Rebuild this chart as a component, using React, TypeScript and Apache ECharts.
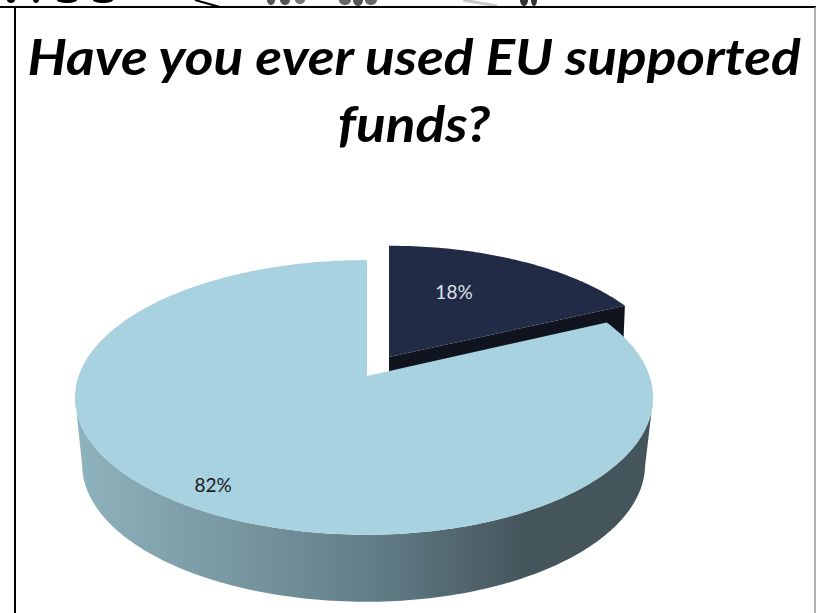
import React, { useEffect, useRef } from "react";
import * as echarts from "echarts";

const titleText = "Have you ever used EU supported\nfunds?";
const sliceNames = ["Yes", "No"];
const sliceValues = [18, 82];
const sliceLabels = ["18%", "82%"];

const W = 816;
const H = 613;
const PERSPECTIVE = 0.156;
const DEG = Math.PI / 180;

const sliceStyles = [
  {
    apexX: 389, apexY: 357, rxLeft: 278, rxRight: 278, ry: 128.6,
    top: "#212B45", cut: "#10141F", side: null as any, cutDepth: 50,
    labelR: 0.613, labelTurn: -7.9, labelColor: "#DDE2E8",
  },
  {
    apexX: 367, apexY: 376, rxLeft: 288.4, rxRight: 282.5, ry: 134,
    top: "#A8D2E0", cut: null as any,
    side: new echarts.graphic.LinearGradient(75, 0, 653, 0, [
      { offset: 0, color: "#8FB3BE" },
      { offset: 0.5, color: "#64808A" },
      { offset: 0.78, color: "#45555C" },
      { offset: 1, color: "#45555C" },
    ], true),
    cutDepth: 0,
    labelR: 0.863, labelTurn: 0.9, labelColor: "#1A1A1A",
  },
];
const RIM_DEPTH = 67;
const RIM_SHRINK = 0.974;

function project(s: any, r: number, deg: number): number[] {
  const u = r * Math.sin(deg * DEG);
  const v = r * Math.cos(deg * DEG);
  const w = 1 + PERSPECTIVE * v;
  return [s.apexX + ((u < 0 ? s.rxLeft : s.rxRight) * u) / w, s.apexY - (s.ry * v) / w];
}
function extrude(s: any, p: number[]): number[] {
  return [s.apexX + (p[0] - s.apexX) * RIM_SHRINK - 0.5, p[1] + RIM_DEPTH];
}

const total = sliceValues.reduce((a, b) => a + b, 0);
const rows = sliceValues.map((v, i) => [
  sliceValues.slice(0, i).reduce((a, b) => a + b, 0),
  v,
]);

function renderItem(params: any, api: any) {
  const i = params.dataIndex;
  const s = sliceStyles[i];
  const a0 = (api.value(0) / total) * 360;
  const a1 = a0 + (api.value(1) / total) * 360;
  const rim: number[][] = [];
  for (let a = a0; a < a1; a += 1) rim.push(project(s, 1, a));
  rim.push(project(s, 1, a1));
  const apex = project(s, 0, 0);
  const children: any[] = [];

  if (s.cut) {
    const end = rim[rim.length - 1];
    children.push({
      type: "polygon",
      shape: { points: [apex, end, [end[0] - 2, end[1] + s.cutDepth], [apex[0], apex[1] + s.cutDepth]] },
      style: { fill: s.cut },
    });
  }
  if (s.side) {
    const front: number[][] = [];
    for (let a = a0; a <= a1; a += 1) {
      if (Math.cos(a * DEG) <= -PERSPECTIVE) front.push(project(s, 1, a));
    }
    if (front.length > 1) {
      const lower = front.map((p) => extrude(s, p)).reverse();
      children.push({
        type: "polygon",
        shape: { points: front.concat(lower) },
        style: { fill: s.side },
      });
    }
  }
  children.push({
    type: "polygon",
    shape: { points: [apex].concat(rim) },
    style: { fill: s.top },
  });
  const lp = project(s, s.labelR, (a0 + a1) / 2 + s.labelTurn);
  children.push({
    type: "text",
    style: {
      text: sliceLabels[i], x: lp[0], y: lp[1], fill: s.labelColor,
      fontSize: 19, fontFamily: "Lato", align: "center", verticalAlign: "middle",
    },
  });
  return { type: "group", children };
}

export default function App() {
  const ref = useRef<HTMLDivElement>(null);
  useEffect(() => {
    const chart = echarts.init(ref.current!, null, { renderer: "svg" });
    const blob = (cx: number, rx: number, ry = 3, fill = "#000") => ({
      type: "ellipse", shape: { cx, cy: 0, rx, ry }, style: { fill },
    });
    chart.setOption({
      animation: false,
      backgroundColor: "#ffffff",
      graphic: [
        {
          type: "text",
          x: 414,
          y: 22,
          scaleX: 1.1,
          style: {
            text: titleText,
            align: "center",
            fontFamily: "Lato", fontSize: 50, fontWeight: "bold", fontStyle: "italic",
            fill: "#000", lineHeight: 67,
          },
        },
        blob(11, 4), blob(36, 3), blob(67, 10), blob(103, 10),
        blob(271, 4, 5, "#555"), blob(285, 5, 5, "#555"), blob(300, 5, 4, "#777"),
        blob(345, 6, 5, "#666"), blob(358, 5, 6, "#555"), blob(371, 6, 5, "#666"),
        blob(524, 4, 6, "#333"), blob(534, 3, 6, "#333"),
        { type: "line", shape: { x1: 195, y1: 0, x2: 220, y2: 7 }, style: { stroke: "#000", lineWidth: 2 } },
        { type: "line", shape: { x1: 463, y1: 0, x2: 497, y2: 6 }, style: { stroke: "#C8C8C8", lineWidth: 3 } },
        { type: "line", shape: { x1: 0, y1: 7, x2: W, y2: 7 }, style: { stroke: "#000", lineWidth: 2 } },
        { type: "line", shape: { x1: 15, y1: 7, x2: 15, y2: H }, style: { stroke: "#000", lineWidth: 2 } },
        { type: "line", shape: { x1: 815, y1: 7, x2: 815, y2: H }, style: { stroke: "#999", lineWidth: 1.5 } },
      ],
      series: [
        {
          type: "custom",
          coordinateSystem: "none",
          name: "Have you ever used EU supported funds?",
          renderItem,
          data: rows.map((r, i) => ({ name: sliceNames[i], value: r })),
        },
      ],
    });
    return () => chart.dispose();
  }, []);
  return <div ref={ref} style={{ position: "absolute", left: 0, top: 0, width: W, height: H }} />;
}
